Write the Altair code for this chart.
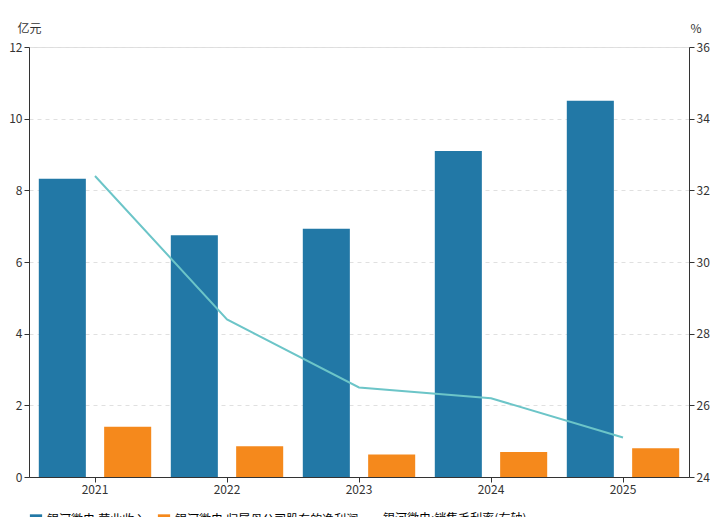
import altair as alt
import pandas as pd

years = ["2021", "2022", "2023", "2024", "2025"]
revenue = [8.32, 6.75, 6.93, 9.10, 10.50]
profit = [1.40, 0.86, 0.63, 0.70, 0.80]
margin = [32.4, 28.4, 26.5, 26.2, 25.1]

S_REV = "银河微电:营业收入"
S_PRO = "银河微电:归属母公司股东的净利润"
S_MAR = "银河微电:销售毛利率(右轴)"

bars = pd.DataFrame(
    [{"年": y, "系列": S_REV, "值": v} for y, v in zip(years, revenue)]
    + [{"年": y, "系列": S_PRO, "值": v} for y, v in zip(years, profit)]
)
line = pd.DataFrame({"年": years, "系列": S_MAR, "值": margin})

FONT = "Noto Sans CJK SC"
x = alt.X("年:N", sort=years, scale=alt.Scale(paddingInner=0.0, paddingOuter=0.0),
          axis=alt.Axis(labelAngle=0, title=None, tickSize=5, labelColor="#333",
                        domainColor="#333", tickColor="#333", labelFontSize=12))

bar = alt.Chart(bars).mark_bar().encode(
    x=x,
    xOffset=alt.XOffset("系列:N", sort=[S_REV, S_PRO],
                        scale=alt.Scale(paddingInner=0.28, paddingOuter=0.15)),
    y=alt.Y("值:Q", scale=alt.Scale(domain=[0, 12]),
            axis=alt.Axis(values=[0, 2, 4, 6, 8, 10, 12], title="亿元", titleAngle=0,
                          titleAnchor="end", titleAlign="left", titleX=-12, titleY=-12,
                          titleFontWeight="normal", titleFontSize=12, titleColor="#333",
                          gridDash=[4, 4], gridColor="#e0e0e0", labelColor="#333",
                          domainColor="#333", tickColor="#333", labelFontSize=12)),
    color=alt.Color("系列:N", sort=[S_REV, S_PRO],
                    scale=alt.Scale(domain=[S_REV, S_PRO], range=["#2278a6", "#f5891c"]),
                    legend=alt.Legend(orient="bottom", title=None, symbolType="square",
                                      symbolSize=150, labelFontSize=12, labelLimit=300)),
)

ln = alt.Chart(line).mark_line(strokeWidth=2).encode(
    x=x,
    y=alt.Y("值:Q", scale=alt.Scale(domain=[24, 36]),
            axis=alt.Axis(values=[24, 26, 28, 30, 32, 34, 36], orient="right", title="%",
                          titleAngle=0, titleAnchor="end", titleAlign="right", titleX=12,
                          titleY=-12, titleFontWeight="normal", titleFontSize=12,
                          titleColor="#333", grid=False, labelColor="#333",
                          domainColor="#333", tickColor="#333", labelFontSize=12)),
    stroke=alt.Stroke("系列:N", scale=alt.Scale(range=["#6cc5c8"]),
                      legend=alt.Legend(orient="bottom", title=None, symbolType="stroke",
                                        symbolStrokeWidth=2, labelFontSize=12, labelLimit=300)),
)

chart = (
    alt.layer(bar, ln)
    .resolve_scale(y="independent", color="independent", stroke="independent")
    .properties(width=660, height=430, padding={"left": 0, "top": 14, "right": 0, "bottom": 0})
    .configure_view(stroke=None)
    .configure_legend(orient="bottom", direction="horizontal", columnPadding=16)
    .configure(font=FONT)
)
chart.save("out.html", embed_options={"renderer": "svg", "actions": False})
